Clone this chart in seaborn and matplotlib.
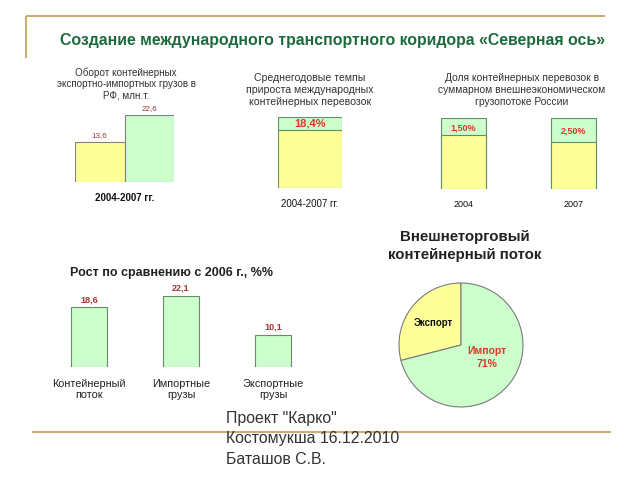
import matplotlib
matplotlib.use("Agg")
import matplotlib.pyplot as plt
import seaborn as sns

W, H = 640, 480

YELLOW = "#ffff99"
GREEN = "#ccffcc"
EDGE = "#808080"
EDGE_GREEN = "#5e8f68"
DARKRED = "#a33636"
RED = "#d8392b"
GOLD = "#c8ae70"
TITLE_GREEN = "#1d6a3c"
TEXT = "#333333"

# turnover of container export-import cargo, mln t
turnover_years = ["2004", "2007"]
turnover_mt = [13.6, 22.6]

# average annual growth of international container transport, %
growth_period = ["2004-2007 гг."]
growth_rate_pct = [18.4]

# share of container transport in foreign trade cargo flow
share_years = ["2004", "2007"]
share_pct = [1.5, 2.5]
share_drawn = [24, 34]  # green part as drawn on the slide (not to scale)

# growth vs 2006, %
growth_cats = ["Контейнерный\nпоток", "Импортные\nгрузы", "Экспортные\nгрузы"]
growth_vs_2006 = [18.6, 22.1, 10.1]

# foreign trade container flow
flow_labels = ["Экспорт", "Импорт"]
flow_pct = [29, 71]


def fmt(v, nd=1):
    return f"{v:.{nd}f}".replace(".", ",")


def px_axes(fig, left, top, right, bottom):
    return fig.add_axes([left / W, 1 - bottom / H, (right - left) / W, (bottom - top) / H])


def bare(ax, ticks=None):
    sns.despine(ax=ax, left=True, bottom=True, top=True, right=True)
    ax.set_yticks([])
    ax.set_ylabel("")
    ax.set_xlabel("")
    if ticks is None:
        ax.set_xticks([])
    else:
        ax.set_xticks(ticks)
        ax.set_xticklabels([])
        ax.tick_params(axis="x", length=2, width=0.8, color="#999999")
    ax.patch.set_alpha(0)


sns.set_style("white")
plt.rcParams["font.family"] = ["Liberation Sans", "DejaVu Sans"]

fig = plt.figure(figsize=(6.4, 4.8), dpi=100)

# background layer in pixel coords
bg = fig.add_axes([0, 0, 1, 1])
bg.set_xlim(0, W)
bg.set_ylim(H, 0)
bg.axis("off")
bg.plot([26, 605], [16, 16], color=GOLD, lw=1.5, solid_capstyle="butt")
bg.plot([26, 26], [16, 58], color=GOLD, lw=1.5, solid_capstyle="butt")
bg.plot([32, 611], [432, 432], color=GOLD, lw=1.5, solid_capstyle="butt")
bg.text(333, 41, "Создание международного транспортного коридора «Северная ось»",
        ha="center", va="center", fontsize=11.4, fontweight="bold", color=TITLE_GREEN)
for i, line in enumerate(['Проект "Карко"', "Костомукша 16.12.2010", "Баташов С.В."]):
    bg.text(226, 419 + 20 * i, line, ha="left", va="center", fontsize=11.4, color=TEXT)

bg.text(126, 84, "Оборот контейнерных\nэкспортно-импортных грузов в\nРФ, млн.т.",
        ha="center", va="center", fontsize=7.1, color=TEXT, linespacing=1.15)
bg.text(310, 90, "Среднегодовые темпы\nприроста международных\nконтейнерных перевозок",
        ha="center", va="center", fontsize=7.6, color=TEXT, linespacing=1.2)
bg.text(522, 90, "Доля контейнерных перевозок в\nсуммарном внешнеэкономическом\nгрузопотоке России",
        ha="center", va="center", fontsize=7.4, color=TEXT, linespacing=1.25)
bg.text(171, 273, "Рост по сравнению с 2006 г., %%",
        ha="center", va="center", fontsize=9, fontweight="bold", color="#222222")
bg.text(465, 246, "Внешнеторговый\nконтейнерный поток",
        ha="center", va="center", fontsize=10.8, fontweight="bold", color="#222222", linespacing=1.4)

# panel 1: turnover
ax1 = px_axes(fig, 75, 115, 174, 182)
sns.barplot(x=turnover_years, y=turnover_mt, hue=turnover_years, palette=[YELLOW, GREEN],
            width=1, saturation=1, edgecolor=EDGE, linewidth=0.8, legend=False, ax=ax1)
ax1.set_xlim(-0.5, 1.5)
ax1.set_ylim(0, max(turnover_mt))
bare(ax1)
for i, v in enumerate(turnover_mt):
    ax1.annotate(fmt(v), (i, v), xytext=(0, 4.5), textcoords="offset points",
                 ha="center", va="center", fontsize=5.8, color=DARKRED)
ax1.annotate("2004-2007 гг.", (0.5, 0), xytext=(0, -11.5), textcoords="offset points",
             ha="center", va="center", fontsize=7, fontweight="bold", color="#111111")

# panel 2: average growth rate
ax2 = px_axes(fig, 278, 117, 342, 188)
sns.barplot(x=growth_period, y=[100], color=GREEN, width=1, saturation=1,
            edgecolor=EDGE_GREEN, linewidth=0.8, ax=ax2)
sns.barplot(x=growth_period, y=[100 - v for v in growth_rate_pct], color=YELLOW, width=1,
            saturation=1, edgecolor=EDGE_GREEN, linewidth=0.8, ax=ax2)
ax2.set_xlim(-0.5, 0.5)
ax2.set_ylim(0, 100)
bare(ax2)
for i, v in enumerate(growth_rate_pct):
    ax2.text(i, 100 - v / 2, fmt(v) + "%", ha="center", va="center",
             fontsize=8, fontweight="bold", color=RED)
    ax2.annotate(growth_period[i], (i, 0), xytext=(0, -11.5), textcoords="offset points",
                 ha="center", va="center", fontsize=7, color="#111111")

# panel 3: share of container transport
ax3 = px_axes(fig, 408, 118, 629, 189)
sns.barplot(x=share_years, y=[100, 100], color=GREEN, width=0.41, saturation=1,
            edgecolor=EDGE_GREEN, linewidth=0.8, ax=ax3)
sns.barplot(x=share_years, y=[100 - d for d in share_drawn], color=YELLOW, width=0.41,
            saturation=1, edgecolor=EDGE_GREEN, linewidth=0.8, ax=ax3)
ax3.set_xlim(-0.5, 1.5)
ax3.set_ylim(0, 100)
bare(ax3, ticks=[0.5, 1.5])
for i, (p, d) in enumerate(zip(share_pct, share_drawn)):
    ax3.text(i, 100 - d / 2 - 2, fmt(p, 2) + "%", ha="center", va="center",
             fontsize=6.5, fontweight="bold", color=RED)
    ax3.annotate(share_years[i], (i, 0), xytext=(0, -11), textcoords="offset points",
                 ha="center", va="center", fontsize=6.5, color="#111111")

# panel 4: growth vs 2006
ax4 = px_axes(fig, 43, 296, 319, 367)
sns.barplot(x=growth_cats, y=growth_vs_2006, color=GREEN, width=0.39, saturation=1,
            edgecolor="#6a8a6a", linewidth=0.8, ax=ax4)
ax4.set_xlim(-0.5, 2.5)
ax4.set_ylim(0, max(growth_vs_2006))
bare(ax4, ticks=[-0.5, 0.5, 1.5, 2.5])
for i, v in enumerate(growth_vs_2006):
    ax4.annotate(fmt(v), (i, v), xytext=(0, 5.5), textcoords="offset points",
                 ha="center", va="center", fontsize=6.5, fontweight="bold", color=DARKRED)
    ax4.annotate(growth_cats[i], (i, 0), xytext=(0, -16), textcoords="offset points",
                 ha="center", va="center", fontsize=7.8, color="#222222", linespacing=1.1)

# panel 5: pie
ax5 = px_axes(fig, 399, 283, 523, 407)
ax5.pie(flow_pct, colors=[YELLOW, GREEN], startangle=90, counterclock=True,
        wedgeprops=dict(edgecolor="#7a7a7a", linewidth=0.8))
ax5.set_xlim(-1, 1)
ax5.set_ylim(-1, 1)
ax5.text(-0.45, 0.36, flow_labels[0], ha="center", va="center",
         fontsize=7, fontweight="bold", color="#111111")
ax5.text(0.42, -0.2, f"{flow_labels[1]}\n{flow_pct[1]}%", ha="center", va="center",
         fontsize=7.5, fontweight="bold", color=RED, linespacing=1.3)

fig.savefig("out.png", dpi=100)
